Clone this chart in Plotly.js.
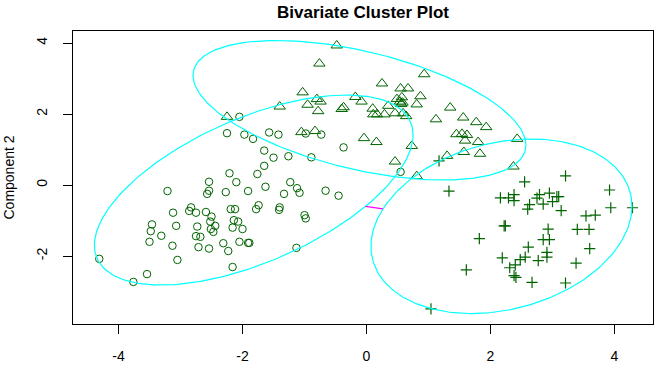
<!DOCTYPE html>
<html><head><meta charset="utf-8">
<script src="https://cdn.plot.ly/plotly-3.0.1.min.js"></script>
<style>html,body{margin:0;padding:0;background:#fff}</style>
</head><body><div id="chart" style="width:666px;height:368px"></div>
<script>
// Cluster 1 (circles)
const circleX = [-2.05,-2.25,-1.97,-1.83,-1.57,-1.42,-0.98,-0.73,-0.37,-1.65,-1.50,-1.26,-0.89,-1.65,0.55,-2.21,-1.76,-3.21,-2.54,-2.54,-2.57,-2.10,-2.27,-1.91,-1.63,-1.23,-1.12,-1.08,-1.33,-0.66,-0.45,-3.12,-2.83,-2.86,-2.75,-2.59,-2.50,-2.19,-2.12,-1.74,-1.78,-1.40,-1.41,-1.00,-0.98,-3.46,-3.48,-3.07,-3.31,-3.50,-2.73,-2.52,-2.44,-2.51,-2.47,-2.14,-2.07,-2.16,-2.00,-2.75,-2.68,-3.13,-2.71,-2.54,-2.31,-2.23,-2.05,-1.91,-1.89,-1.13,-4.31,-3.05,-2.16,-3.54,-3.76];
const circleY = [1.92,1.46,1.42,1.30,1.48,1.42,1.45,1.42,1.06,0.97,0.77,0.81,0.78,0.54,0.37,0.33,0.31,-0.17,0.09,-0.16,-0.25,0.08,-0.20,-0.17,-0.05,0.08,-0.09,-0.22,-0.25,-0.16,-0.30,-0.78,-0.63,-0.73,-0.78,-0.76,-0.89,-0.68,-0.68,-0.57,-0.68,-0.63,-0.70,-0.85,-0.94,-1.11,-1.30,-1.15,-1.43,-1.60,-1.17,-1.03,-1.15,-1.24,-1.32,-0.99,-1.03,-1.20,-1.24,-1.44,-1.46,-1.71,-1.75,-1.79,-1.64,-1.86,-1.60,-1.63,-1.63,-1.77,-2.08,-2.11,-2.31,-2.51,-2.73];
// Cluster 2 (triangles)
const triX = [-0.48,-0.76,-1.03,-0.80,-0.74,-0.95,-0.78,-0.18,-0.08,-0.37,-0.40,0.10,0.11,0.29,-1.40,-2.25,-1.05,-0.83,-0.04,0.16,0.93,0.25,0.55,0.67,0.87,0.49,0.57,0.54,0.58,0.56,0.35,0.46,0.59,0.64,0.81,1.35,1.12,1.56,1.77,1.93,1.45,1.54,1.62,1.59,1.80,0.73,1.57,1.83,1.30,2.43,0.46,2.37,0.81,0.17];
const triY = [3.93,3.42,2.61,2.42,2.35,2.26,2.08,2.48,2.35,2.19,2.14,2.15,1.99,1.99,2.21,1.92,1.49,1.52,1.32,1.21,3.12,2.86,2.72,2.72,2.50,2.42,2.47,2.35,2.32,2.28,2.23,2.02,2.02,1.94,2.27,2.18,1.85,1.90,1.77,1.63,1.43,1.44,1.41,1.25,1.21,1.10,0.93,0.88,0.82,1.30,0.66,0.52,0.25,1.99];
// Cluster 3 (plus)
const plusX = [3.21,2.55,3.92,1.33,1.17,2.16,2.29,2.38,2.38,2.63,2.60,2.79,2.75,2.85,2.95,3.00,3.07,3.10,3.14,3.94,4.29,3.54,3.69,2.22,2.24,2.93,3.40,3.59,1.82,2.85,2.95,2.61,3.60,2.91,2.91,2.19,2.56,2.48,2.77,3.38,2.40,2.31,2.38,2.41,1.61,2.67,3.21,1.04];
const plusY = [0.26,0.09,-0.14,-0.17,0.68,-0.36,-0.36,-0.27,-0.44,-0.55,-0.68,-0.27,-0.37,-0.54,-0.23,-0.47,-0.33,-0.33,-0.72,-0.64,-0.64,-0.87,-0.85,-1.15,-1.15,-1.24,-1.25,-1.25,-1.51,-1.54,-1.54,-1.75,-1.79,-1.90,-2.03,-2.05,-2.03,-2.10,-2.13,-2.20,-2.25,-2.33,-2.55,-2.60,-2.39,-2.74,-2.76,-3.49];
// Cluster ellipses: centre, spreads, correlation
const ellCx = [-1.819, -0.113, 2.177];
const ellCy = [-0.141, 2.106, -1.162];
const ellSx = [2.570, 2.685, 2.105];
const ellSy = [2.676, 1.965, 2.458];
const ellR  = [0.5813, -0.4994, 0.2296];
const xTicks = [-4,-2,0,2,4];
const yTicks = [-2,0,2,4];

const GREEN = '#006400';
const FONT = 'Liberation Sans, Arial, sans-serif';
const traces = [];

traces.push({x: circleX, y: circleY, type:'scatter', mode:'markers',
  marker:{symbol:'circle-open', size:7.5, color:GREEN, line:{width:1, color:GREEN}}});
traces.push({x: triX, y: triY, type:'scatter', mode:'markers',
  marker:{symbol:'triangle-up-open', size:10, color:GREEN, line:{width:1, color:GREEN}}});
traces.push({x: plusX, y: plusY, type:'scatter', mode:'markers',
  marker:{symbol:'cross-thin-open', size:8, color:GREEN, line:{width:1.2, color:GREEN}}});

for (let k = 0; k < ellCx.length; k++) {
  const ex = [], ey = [];
  const q = Math.sqrt(1 - ellR[k]*ellR[k]);
  for (let i = 0; i <= 240; i++) {
    const t = 2*Math.PI*i/240;
    ex.push(ellCx[k] + ellSx[k]*Math.cos(t));
    ey.push(ellCy[k] + ellSy[k]*(ellR[k]*Math.cos(t) + q*Math.sin(t)));
  }
  traces.push({x: ex, y: ey, type:'scatter', mode:'lines', line:{color:'#00FFFF', width:1.2}});
}

// distance segments between non-overlapping ellipses (along centre line)
function qf(k, dx, dy) {
  const a = ellSx[k]*ellSx[k], b = ellR[k]*ellSx[k]*ellSy[k], c = ellSy[k]*ellSy[k];
  const det = a*c - b*b;
  return (c*dx*dx - 2*b*dx*dy + a*dy*dy)/det;
}
for (let i = 0; i < ellCx.length; i++) {
  for (let j = i+1; j < ellCx.length; j++) {
    const dx = ellCx[j]-ellCx[i], dy = ellCy[j]-ellCy[i];
    const ti = 1/Math.sqrt(qf(i, dx, dy));
    const tj = 1 - 1/Math.sqrt(qf(j, dx, dy));
    if (ti < tj) {
      traces.push({x:[ellCx[i]+ti*dx, ellCx[i]+tj*dx], y:[ellCy[i]+ti*dy, ellCy[i]+tj*dy],
        type:'scatter', mode:'lines', line:{color:'#FF00FF', width:1.2}});
    }
  }
}

const axisBase = {showline:true, mirror:true, linecolor:'#000', linewidth:1,
  ticks:'outside', ticklen:9, tickcolor:'#000', tickwidth:1, showgrid:false, zeroline:false,
  tickfont:{family:FONT, size:14, color:'#000'}};

const layout = {
  width:666, height:368, showlegend:false,
  margin:{l:73, r:13, t:31, b:44},
  paper_bgcolor:'#fff', plot_bgcolor:'#fff',
  title:{text:'<b>Bivariate Cluster Plot</b>', font:{family:FONT, size:17, color:'#000'},
    xref:'paper', x:0.5, xanchor:'center', yref:'container', y:1-12/368, yanchor:'middle'},
  xaxis: Object.assign({}, axisBase, {range:[-4.734, 4.621], tickvals:xTicks, ticktext:xTicks.map(String),
    ticklabelstandoff:10}),
  yaxis: Object.assign({}, axisBase, {range:[-3.915, 4.338], tickvals:yTicks, ticktext:yTicks.map(String),
    tickangle:-90, ticklabelstandoff:10,
    title:{text:'Component 2', font:{family:FONT, size:14, color:'#000'}, standoff:16}})
};

Plotly.newPlot('chart', traces, layout, {staticPlot:true, displayModeBar:false});
</script></body></html>
